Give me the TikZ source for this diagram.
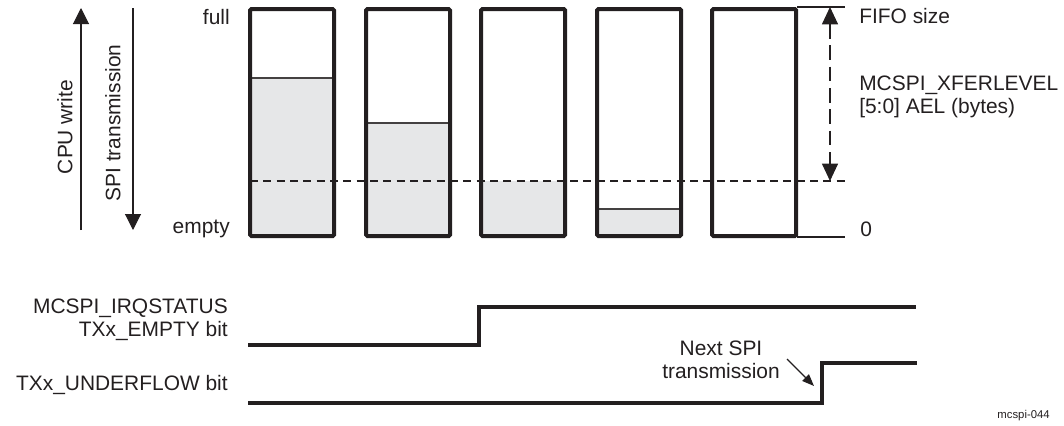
\documentclass[tikz,border=0pt]{standalone}
\usepackage{fontspec}
\setmainfont{Liberation Sans}
\usetikzlibrary{arrows.meta, positioning}
\definecolor{fifogray}{HTML}{E6E7E8}
\definecolor{inkblack}{HTML}{231F20}

\begin{document}
\begin{tikzpicture}[x=0.75pt, y=-0.75pt,
  every node/.style={font=\fontsize{15.7}{17.5}\selectfont, text=inkblack, inner sep=0pt},
  fifo/.style={draw=inkblack, line width=3pt, rounded corners=1pt},
  level/.style={fill=fifogray},
  levelline/.style={draw=inkblack!85, line width=1pt},
  threshold/.style={draw=inkblack, line width=0.8pt, dash pattern=on 6pt off 4pt},
  signal/.style={draw=inkblack, line width=2.6pt},
  thinline/.style={draw=inkblack, line width=0.8pt},
  bigtip/.style={-{Triangle[length=12pt,width=12pt]}}
]
\useasboundingbox (0,0) rectangle (1064,425);

\fill[level] (250,78) rectangle (334,236);
\draw[levelline] (250,78) -- (334,78);
\fill[level] (366,123) rectangle (450,236);
\draw[levelline] (366,123) -- (450,123);
\fill[level] (481,181) rectangle (565,236);
\fill[level] (597,209) rectangle (681,236);
\draw[levelline] (597,209) -- (681,209);

\draw[threshold] (250,181) -- (845,181);

\draw[fifo] (250,9) rectangle (334,236);
\draw[fifo] (366,9) rectangle (450,236);
\draw[fifo] (481,9) rectangle (565,236);
\draw[fifo] (597,9) rectangle (681,236);
\draw[fifo] (712,9) rectangle (796,236);

\draw[thinline] (797,7) -- (845,7);
\draw[thinline] (797,237) -- (845,237);

\node[anchor=east] (full) at (230,17) {full};
\node[anchor=east] (empty) at (230,229) {empty};
\node[rotate=90] (cpuwrite) at (65,127) {CPU write};
\node[rotate=90] (spitx) at (113,123) {SPI transmission};

\coordinate (cpubot) at (81,230);
\coordinate (cputop) at (81,8);
\coordinate (spitop) at (133,8);
\coordinate (spibot) at (133,230);
\draw[thinline, bigtip] (cpubot) -- (cputop);
\draw[thinline, bigtip] (spitop) -- (spibot);

\coordinate (aeltop) at (830,7);
\coordinate (aelbot) at (830,181);
\draw[thinline, dash pattern=on 11pt off 5pt, {Triangle[length=13pt,width=12pt]}-{Triangle[length=13pt,width=12pt]}] (aeltop) -- (aelbot);

\node[anchor=west] (fifosize) at (859,16) {FIFO size};
\node[anchor=west, align=left] (xferlevel) at (859,97) {MCSPI\_XFERLEVEL\\{[5:0]} AEL (bytes)};
\node[anchor=west] (zero) at (860,229) {0};

\node[anchor=east, align=right] (irqlabel) at (228,320) {MCSPI\_IRQSTATUS\\TXx\_EMPTY bit};
\node[anchor=east] (uflabel) at (228,385) {TXx\_UNDERFLOW bit};

\draw[signal] (248,345) -- (479,345) -- (479,307) -- (916,307);
\draw[signal] (248,403) -- (822,403) -- (822,363) -- (917,363);

\node[align=center] (nextspi) at (721,360) {Next SPI\\transmission};
\coordinate (nexttail) at (787,359);
\coordinate (nexthead) at (814,386);
\draw[thinline, -{Triangle[length=9pt,width=7pt]}] (nexttail) -- (nexthead);

\node[anchor=east, font=\fontsize{8.5}{10}\selectfont] (figid) at (1050,416) {mcspi-044};
\end{tikzpicture}
\end{document}
